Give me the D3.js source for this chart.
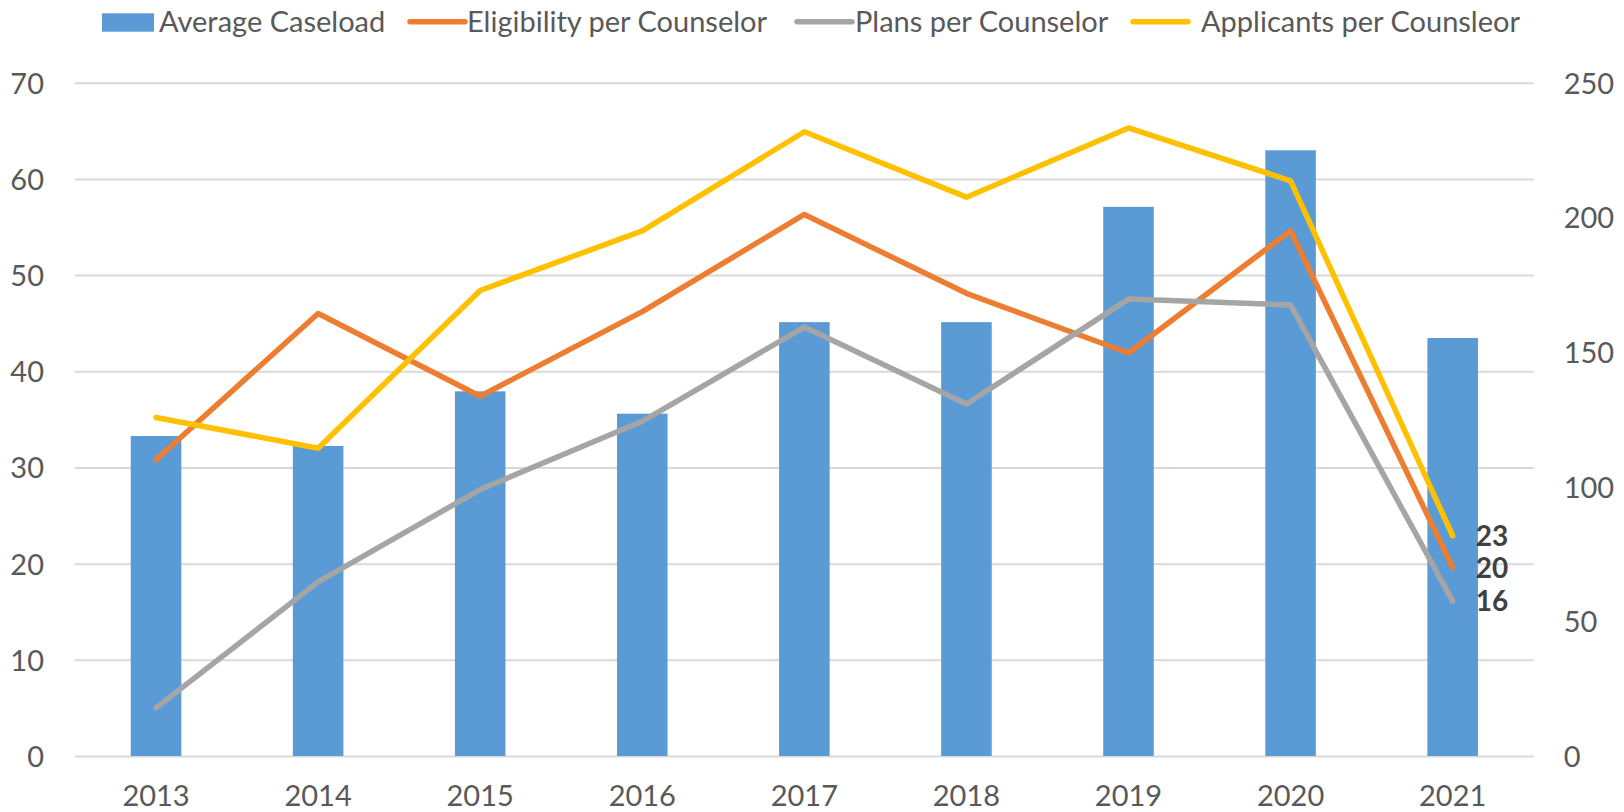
<!DOCTYPE html>
<html>
<head>
<meta charset="utf-8">
<script src="https://cdn.jsdelivr.net/npm/d3@7"></script>
<style>
	body { margin: 0; background: #fff; }
	text { font-family: Lato, 'Open Sans', sans-serif; fill: #595959; }
	.tickLabel { font-size: 29px; }
	.legendText { font-size: 29px; }
	.endLabel { font-size: 28px; font-weight: bold; fill: #404040; }
</style>
</head>
<body>
<svg id="chartSVG" width="1624" height="812"></svg>
<script>
// chart data
const years = ['2013', '2014', '2015', '2016', '2017', '2018', '2019', '2020', '2021'];
const avgCaseload = [118.8, 115.1, 135.4, 127.1, 161.1, 161.1, 203.9, 224.9, 155.2]; // right axis
const eligibility = [30.8, 46.0, 37.4, 46.2, 56.3, 48.1, 41.9, 54.6, 19.6];
const plans = [5.0, 18.1, 27.7, 34.8, 44.6, 36.6, 47.5, 46.9, 16.1];
const applicants = [35.2, 32.0, 48.4, 54.6, 64.9, 58.1, 65.3, 59.8, 22.9];
const leftTicks = [0, 10, 20, 30, 40, 50, 60, 70];
const rightTicks = [0, 50, 100, 150, 200, 250];

const lineSeries = [
	{name: 'Eligibility per Counselor', values: eligibility, color: '#ED7D31'},
	{name: 'Plans per Counselor', values: plans, color: '#A5A5A5'},
	{name: 'Applicants per Counsleor', values: applicants, color: '#FFC000'}
];

const plotLeft = 75, plotRight = 1533.7, plotTop = 82.7, plotBottom = 756;

const x = d3.scaleBand()
	.domain(years)
	.range([plotLeft, plotRight])
	.paddingInner(0.688)
	.paddingOuter(0.344);

const y = d3.scaleLinear().domain([0, 70]).range([plotBottom, plotTop]);
const y2 = d3.scaleLinear().domain([0, 250]).range([plotBottom, plotTop]);

const svg = d3.select('#chartSVG');

// gridlines
svg.append('g')
	.attr('transform', 'translate(' + plotLeft + ',0)')
	.call(d3.axisLeft(y).tickValues(leftTicks).tickSize(-(plotRight - plotLeft)).tickFormat(''))
	.call(g => g.select('.domain').remove())
	.selectAll('line')
	.attr('stroke', '#D9D9D9')
	.attr('stroke-width', 2);

// left axis labels
svg.append('g')
	.attr('transform', 'translate(' + plotLeft + ',0)')
	.call(d3.axisLeft(y).tickValues(leftTicks).tickSize(0).tickPadding(31))
	.call(g => g.select('.domain').remove())
	.selectAll('text')
	.attr('class', 'tickLabel')
	.attr('dy', '0.36em');

// right axis labels
svg.append('g')
	.attr('transform', 'translate(' + plotRight + ',0)')
	.call(d3.axisRight(y2).tickValues(rightTicks).tickSize(0).tickPadding(30))
	.call(g => g.select('.domain').remove())
	.selectAll('text')
	.attr('class', 'tickLabel')
	.attr('dy', '0.36em');

// bars (average caseload, right axis)
svg.append('g')
	.selectAll('rect')
	.data(avgCaseload)
	.join('rect')
	.attr('x', (d, i) => x(years[i]))
	.attr('width', x.bandwidth())
	.attr('y', d => y2(d))
	.attr('height', d => plotBottom - y2(d))
	.attr('fill', '#5B9BD5');

// bottom axis labels
svg.append('g')
	.attr('transform', 'translate(0,' + plotBottom + ')')
	.call(d3.axisBottom(x).tickSize(0))
	.call(g => g.select('.domain').remove())
	.selectAll('text')
	.attr('class', 'tickLabel')
	.attr('y', 50)
	.attr('dy', 0);

// lines (left axis)
const line = d3.line()
	.x((d, i) => x(years[i]) + x.bandwidth() / 2)
	.y(d => y(d));

svg.append('g')
	.selectAll('path')
	.data(lineSeries)
	.join('path')
	.attr('d', d => line(d.values))
	.attr('fill', 'none')
	.attr('stroke', d => d.color)
	.attr('stroke-width', 5.5)
	.attr('stroke-linejoin', 'round')
	.attr('stroke-linecap', 'round');

// labels on the last point
const last = years.length - 1;
svg.append('g')
	.selectAll('text')
	.data(lineSeries)
	.join('text')
	.attr('class', 'endLabel')
	.attr('x', x(years[last]) + x.bandwidth() / 2 + 23)
	.attr('y', d => y(d.values[last]))
	.attr('dy', '0.36em')
	.text(d => d3.format('.0f')(d.values[last]));

// legend - marker and text start positions
const legend = svg.append('g').attr('id', 'legend');
const legendMarkX = [410, 797, 1133];
const legendTextX = [467, 855, 1201];

legend.append('rect')
	.attr('x', 102)
	.attr('y', 13.3)
	.attr('width', 52)
	.attr('height', 18.4)
	.attr('fill', '#5B9BD5');

legend.append('text')
	.attr('class', 'legendText')
	.attr('x', 159)
	.attr('y', 31.7)
	.text('Average Caseload');

legend.selectAll('line')
	.data(lineSeries)
	.join('line')
	.attr('x1', (d, i) => legendMarkX[i])
	.attr('x2', (d, i) => legendMarkX[i] + 55)
	.attr('y1', 21.7)
	.attr('y2', 21.7)
	.attr('stroke', d => d.color)
	.attr('stroke-width', 5.5)
	.attr('stroke-linecap', 'round');

legend.selectAll('text.legendItem')
	.data(lineSeries)
	.join('text')
	.attr('class', 'legendText legendItem')
	.attr('x', (d, i) => legendTextX[i])
	.attr('y', 31.7)
	.text(d => d.name);
</script>
</body>
</html>
